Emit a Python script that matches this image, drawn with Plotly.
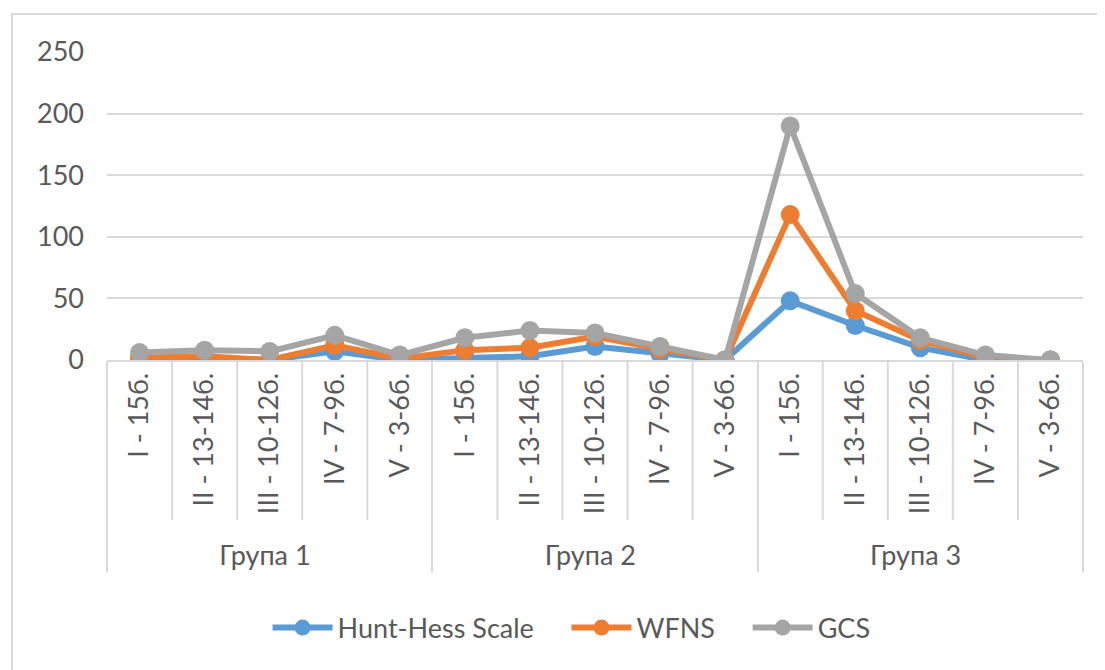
import plotly.graph_objects as go

groups = ["Група 1", "Група 2", "Група 3"]
levels = ["I - 15б.", "II - 13-14б.", "III - 10-12б.", "IV - 7-9б.", "V - 3-6б."]

hunt_hess = [0, 1, 0, 7, 0,  2, 3, 11, 5, 0,  48, 28, 10, 0, 0]
wfns      = [2, 3, 0, 12, 1,  8, 10, 19, 9, 0,  118, 40, 16, 2, 0]
gcs       = [6, 8, 7, 20, 4,  18, 24, 22, 11, 0,  190, 54, 18, 4, 0]

y_ticks = [0, 50, 100, 150, 200, 250]

x_outer = [g for g in groups for _ in levels]
x_inner = [l for _ in groups for l in levels]

FONT = "Lato"
TXT = "#595959"
GRID = "#d9d9d9"
GAP = "\u00a0" * 4

fig = go.Figure()
series = [("Hunt-Hess Scale", hunt_hess, "#5B9BD5", GAP),
          ("WFNS", wfns, "#ED7D31", GAP),
          ("GCS", gcs, "#A5A5A5", "")]
for name, vals, col, pad in series:
    fig.add_trace(go.Scatter(
        x=[x_outer, x_inner], y=vals, name=name + pad, mode="lines+markers",
        line=dict(color=col, width=6),
        marker=dict(color=col, size=19),
    ))

# page body has an 8px offset; work in window pixels and convert
OFF = 8
FW, FH = 1105 - OFF, 670 - OFF
L, R, T, B = 107 - OFF, 22, 52 - OFF, 310
W = FW - L - R
H = FH - T - B

def py(p):
    return (T + H - (p - OFF)) / H

def px(p):
    return (p - OFF - L) / W

n = len(levels) * len(groups)
shapes = []
for i in range(1, n):
    if i % len(levels) == 0:
        continue
    shapes.append(dict(type="line", xref="x", yref="paper", x0=i - 0.5, x1=i - 0.5,
                       y0=0, y1=py(520), line=dict(color=GRID, width=2)))
shapes.append(dict(type="rect", xref="paper", yref="paper",
                   x0=px(12), x1=px(1100), y0=py(700), y1=py(14),
                   line=dict(color=GRID, width=2), layer="below"))

fig.update_layout(
    width=FW, height=FH,
    margin=dict(l=L, r=R, t=T, b=B),
    paper_bgcolor="white", plot_bgcolor="white",
    font=dict(family=FONT, size=27, color=TXT),
    showlegend=True,
    legend=dict(orientation="h", x=0.476, xanchor="center", y=py(628), yanchor="middle",
                font=dict(size=27, color=TXT), itemwidth=60, tracegroupgap=0),
    shapes=shapes,
    xaxis=dict(type="multicategory", tickangle=-90, showgrid=False,
               range=[-0.5, n - 0.5],
               showline=True, linecolor=GRID, linewidth=2,
               showdividers=True, dividercolor=GRID, dividerwidth=2,
               ticks="", automargin=False,
               tickfont=dict(size=27, color=TXT, family=FONT)),
    yaxis=dict(range=[0, 250], tickvals=y_ticks, showgrid=True, gridcolor=GRID, gridwidth=2,
               zeroline=False, showline=False, automargin=False, ticklabelstandoff=22,
               tickfont=dict(size=27, color=TXT, family=FONT)),
)

fig.write_html("out.html")
